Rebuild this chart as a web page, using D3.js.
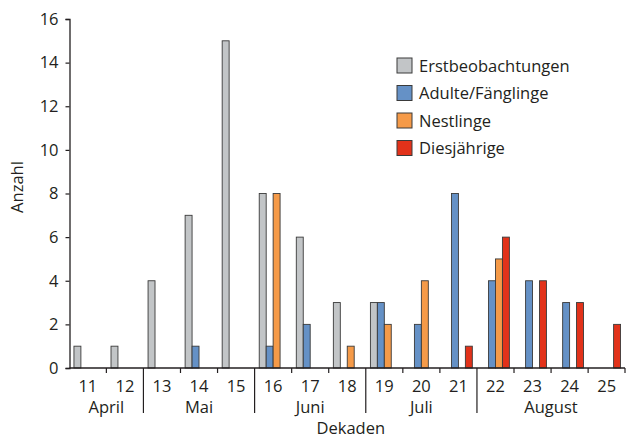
<!DOCTYPE html>
<html>
<head>
<meta charset="utf-8">
<script src="https://cdn.jsdelivr.net/npm/d3@7"></script>
<style>
  body { margin: 0; background: #fff; }
  text { font-family: "Open Sans", sans-serif; fill: #231f20; }
</style>
</head>
<body>
<script>
//size of svg
var w = 628;
var h = 439;

//data
var dekaden = ["11", "12", "13", "14", "15", "16", "17", "18", "19", "20", "21", "22", "23", "24", "25"];
var erstbeobachtungen = [1, 1, 4, 7, 15, 8, 6, 3, 3, 0, 0, 0, 0, 0, 0];
var adulte = [0, 0, 0, 1, 0, 1, 2, 0, 3, 2, 8, 4, 4, 3, 0];
var nestlinge = [0, 0, 0, 0, 0, 8, 0, 1, 2, 4, 0, 5, 0, 0, 0];
var diesjaehrige = [0, 0, 0, 0, 0, 0, 0, 0, 0, 0, 1, 6, 4, 3, 2];
var seriesNames = ["Erstbeobachtungen", "Adulte/Fänglinge", "Nestlinge", "Diesjährige"];
var colors = ["#c2c5c7", "#6591c6", "#f59a48", "#e2321a"];
var yTicks = [0, 2, 4, 6, 8, 10, 12, 14, 16];
//months: name, first and last dekade
var months = [["April", "11", "12"], ["Mai", "13", "15"], ["Juni", "16", "18"], ["Juli", "19", "21"], ["August", "22", "25"]];

var allSeries = [erstbeobachtungen, adulte, nestlinge, diesjaehrige];
var dataset = dekaden.map(function(d, i) {
    return { dekade: d, values: allSeries.map(function(s) { return s[i]; }) };
});

var margin = { left: 69.5, right: 3, top: 19, bottom: 71 };
var fs = "16.5px";

var svg = d3.select("body")
            .append("svg")
            .attr("width", w)
            .attr("height", h);

var x0 = d3.scaleBand()
            .domain(dekaden)
            .range([margin.left, w - margin.right])
            .paddingInner(0.25)
            .paddingOuter(0.12);

var x1 = d3.scaleBand()
            .domain(d3.range(4))
            .range([0, x0.bandwidth()]);

var y = d3.scaleLinear()
            .domain([0, 16])
            .range([h - margin.bottom, margin.top]);

//bars
var groups = svg.selectAll("g.dek")
                .data(dataset)
                .enter()
                .append("g")
                .attr("class", "dek")
                .attr("transform", function(d) { return "translate(" + x0(d.dekade) + ",0)"; });

groups.selectAll("rect")
    .data(function(d) { return d.values.map(function(v, k) { return { k: k, v: v }; }).filter(function(e) { return e.v > 0; }); })
    .enter()
    .append("rect")
    .attr("x", function(d) { return x1(d.k); })
    .attr("y", function(d) { return y(d.v); })
    .attr("width", x1.bandwidth())
    .attr("height", function(d) { return y(0) - y(d.v); })
    .attr("fill", function(d) { return colors[d.k]; })
    .attr("stroke", "#3a3a3a")
    .attr("stroke-width", 0.9);

//y axis
var yAxis = svg.append("g")
    .attr("transform", "translate(" + margin.left + ",0)")
    .call(d3.axisLeft(y).tickValues(yTicks).tickSize(4).tickPadding(7));
yAxis.select(".domain").attr("stroke", "#231f20").attr("stroke-width", 1.3);
yAxis.selectAll(".tick line").attr("stroke", "#231f20").attr("stroke-width", 1.2);
yAxis.selectAll("text").style("font-size", fs).style("font-family", "'Open Sans', sans-serif").attr("fill", "#231f20");

//x axis: ticks at band boundaries
var half = x0.step() * x0.paddingInner() / 2;
var xLine = svg.append("g");
xLine.append("line")
    .attr("x1", margin.left).attr("x2", w - margin.right)
    .attr("y1", y(0)).attr("y2", y(0))
    .attr("stroke", "#231f20").attr("stroke-width", 1.3);

var monthStarts = months.slice(1).map(function(m) { return m[1]; });
xLine.selectAll("line.tk")
    .data(dekaden.slice(1).concat(["end"]))
    .enter()
    .append("line")
    .attr("class", "tk")
    .attr("x1", function(d) { return d === "end" ? w - margin.right : x0(d) - half; })
    .attr("x2", function(d) { return d === "end" ? w - margin.right : x0(d) - half; })
    .attr("y1", y(0))
    .attr("y2", function(d) { return monthStarts.indexOf(d) >= 0 ? y(0) + 45 : y(0) + 5; })
    .attr("stroke", "#231f20").attr("stroke-width", 1.2);

svg.append("g").selectAll("text")
    .data(dekaden)
    .enter()
    .append("text")
    .attr("x", function(d) { return x0(d) + x0.bandwidth() / 2; })
    .attr("y", y(0) + 24)
    .attr("text-anchor", "middle")
    .style("font-size", fs)
    .text(function(d) { return d; });

svg.append("g").selectAll("text")
    .data(months)
    .enter()
    .append("text")
    .attr("x", function(m) {
        var a = x0(m[1]) - half;
        var b = m[2] === "25" ? w - margin.right : x0(m[2]) + x0.bandwidth() + half;
        return (a + b) / 2;
    })
    .attr("y", y(0) + 45)
    .attr("text-anchor", "middle")
    .style("font-size", fs)
    .text(function(m) { return m[0]; });

//axis titles
svg.append("text")
    .attr("x", (margin.left + w) / 2 + 2)
    .attr("y", 434)
    .attr("text-anchor", "middle")
    .style("font-size", fs)
    .text("Dekaden");

svg.append("text")
    .attr("transform", "translate(23,187) rotate(-90)")
    .attr("text-anchor", "middle")
    .style("font-size", fs)
    .text("Anzahl");

//legend
var legend = svg.append("g").attr("transform", "translate(397,58)");
var items = legend.selectAll("g")
    .data(seriesNames)
    .enter()
    .append("g")
    .attr("transform", function(d, i) { return "translate(0," + (i * 27.5) + ")"; });
items.append("rect")
    .attr("width", 15).attr("height", 15)
    .attr("fill", function(d, i) { return colors[i]; })
    .attr("stroke", "#3a3a3a").attr("stroke-width", 1);
items.append("text")
    .attr("x", 22).attr("y", 13.5)
    .style("font-size", fs)
    .text(function(d) { return d; });
</script>
</body>
</html>
